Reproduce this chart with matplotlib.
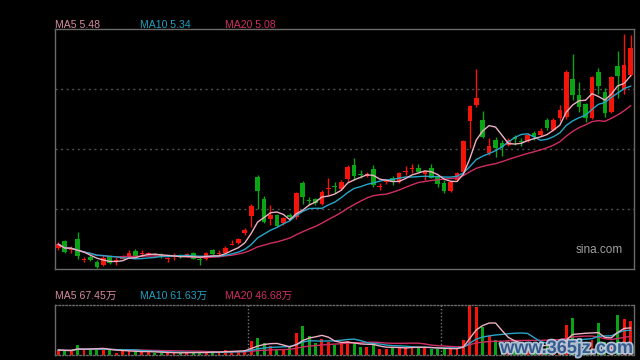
import matplotlib
matplotlib.use("Agg")
import matplotlib.pyplot as plt
import matplotlib.patheffects as pe
import numpy as np
import pandas as pd

# daily OHLC (price), 90 sessions
opens = [3.18, 3.27, 3.16, 3.30, 3.02, 3.06, 3.00, 2.95, 3.07, 3.01,
         3.04, 3.06, 3.14, 3.10, 3.10, 3.10, 3.10, 3.03, 3.06, 3.09,
         3.07, 3.11, 3.03, 3.03, 3.15, 3.10, 3.12, 3.22, 3.25, 3.38,
         3.61, 4.13, 3.84, 3.57, 3.62, 3.51, 3.62, 3.59, 4.05, 3.82,
         3.83, 3.77, 3.97, 4.01, 3.97, 4.10, 4.28, 4.16, 4.14, 4.23,
         4.00, 4.06, 4.11, 4.06, 4.20, 4.24, 4.25, 4.17, 4.25, 4.14,
         4.05, 3.94, 4.09, 4.20, 4.88, 5.09, 4.89, 4.44, 4.62, 4.58,
         4.55, 4.66, 4.61, 4.61, 4.72, 4.69, 4.89, 4.75, 4.92, 4.93,
         5.43, 5.22, 5.10, 4.92, 5.53, 5.26, 5.00, 5.61, 5.29, 5.49]
closes = [3.23, 3.13, 3.17, 3.07, 3.03, 3.02, 2.93, 3.05, 2.98, 3.02,
          3.07, 3.11, 3.07, 3.11, 3.11, 3.09, 3.06, 3.04, 3.07, 3.06,
          3.10, 3.04, 3.02, 3.11, 3.10, 3.11, 3.18, 3.23, 3.30, 3.42,
          3.74, 3.94, 3.53, 3.62, 3.47, 3.58, 3.59, 3.92, 3.86, 3.81,
          3.78, 3.93, 3.98, 4.00, 4.06, 4.26, 4.14, 4.15, 4.17, 4.02,
          4.01, 4.07, 4.06, 4.18, 4.21, 4.25, 4.20, 4.20, 4.12, 4.03,
          3.94, 4.06, 4.18, 4.61, 5.07, 5.18, 4.66, 4.54, 4.51, 4.53,
          4.62, 4.63, 4.59, 4.69, 4.66, 4.74, 4.78, 4.89, 5.02, 5.53,
          5.22, 5.06, 4.92, 5.46, 5.34, 4.98, 5.46, 5.47, 5.62, 5.85]
highs = [3.26, 3.29, 3.21, 3.39, 3.06, 3.09, 3.02, 3.09, 3.09, 3.06,
         3.09, 3.16, 3.17, 3.15, 3.13, 3.11, 3.11, 3.06, 3.11, 3.10,
         3.11, 3.13, 3.07, 3.13, 3.17, 3.15, 3.21, 3.29, 3.32, 3.45,
         3.77, 4.15, 3.87, 3.75, 3.63, 3.59, 3.65, 3.93, 4.07, 3.86,
         3.85, 3.95, 4.12, 4.06, 4.09, 4.29, 4.38, 4.22, 4.19, 4.29,
         4.05, 4.10, 4.14, 4.19, 4.27, 4.30, 4.30, 4.21, 4.30, 4.15,
         4.09, 4.07, 4.20, 4.62, 5.09, 5.57, 5.01, 4.65, 4.66, 4.62,
         4.65, 4.69, 4.65, 4.71, 4.74, 4.78, 4.91, 4.91, 5.09, 5.55,
         5.77, 5.40, 5.11, 5.47, 5.58, 5.32, 5.47, 5.81, 6.03, 6.02]
lows = [3.15, 3.11, 3.11, 3.03, 2.99, 3.01, 2.91, 2.94, 2.97, 2.95,
        3.03, 3.05, 3.06, 3.06, 3.09, 3.07, 3.05, 3.00, 3.02, 3.05,
        3.06, 3.03, 2.95, 3.02, 3.09, 3.07, 3.11, 3.22, 3.23, 3.35,
        3.46, 3.70, 3.51, 3.49, 3.46, 3.49, 3.57, 3.57, 3.77, 3.75,
        3.75, 3.75, 3.89, 3.92, 3.95, 4.06, 4.09, 4.12, 4.13, 3.99,
        3.95, 4.04, 4.02, 4.05, 4.15, 4.18, 4.19, 4.09, 4.11, 4.00,
        3.91, 3.93, 4.07, 4.19, 4.51, 5.06, 4.65, 4.42, 4.39, 4.41,
        4.54, 4.55, 4.54, 4.59, 4.62, 4.67, 4.75, 4.74, 4.88, 4.90,
        5.15, 5.00, 4.86, 4.90, 5.24, 4.93, 4.98, 5.18, 5.24, 5.47]
# volume in 万 (10k shares)
volumes = [12.4, 10.7, 10.7, 24.8, 14.1, 14.1, 14.9, 14.1, 12.4, 5.7,
           9.2, 9.9, 9.2, 8.2, 6.7, 5.0, 6.2, 5.0, 6.2, 5.0,
           6.2, 7.4, 6.2, 7.4, 8.7, 6.2, 12.4, 9.9, 11.2, 12.4,
           34.7, 42.9, 29.0, 22.3, 14.9, 14.9, 20.6, 55.3, 72.7, 47.1,
           30.5, 38.9, 33.0, 24.8, 29.0, 34.7, 29.0, 20.6, 20.6, 26.5,
           14.9, 14.9, 18.1, 19.1, 20.6, 20.6, 18.1, 18.1, 15.6, 15.6,
           15.6, 15.6, 15.6, 37.2, 124.0, 119.8, 70.2, 47.1, 37.2, 30.5,
           33.0, 27.3, 22.3, 24.8, 19.8, 22.3, 29.8, 24.8, 34.7, 74.4,
           92.5, 37.2, 32.2, 38.4, 78.6, 32.2, 32.2, 99.2, 89.3, 84.3]
month_breaks = [29.5, 59.5]

ma_last = {"MA5": "5.48", "MA10": "5.34", "MA20": "5.08"}
vol_ma_last = {"MA5": "67.45万", "MA10": "61.63万", "MA20": "46.68万"}

RED = "#f5140a"
GREEN = "#0aa514"
MA_COLORS = {"MA5": "#eeb0c2", "MA10": "#26a6c8", "MA20": "#d02d64"}
LABEL_COLORS = {"MA5": "#d88aa0", "MA10": "#1fa0c0", "MA20": "#d02d64"}
BORDER = "#6a6a6a"

plt.rcParams["font.family"] = ["Liberation Sans", "Noto Sans CJK SC", "DejaVu Sans"]

df = pd.DataFrame({"open": opens, "close": closes, "high": highs,
                   "low": lows, "vol": volumes})
x = np.arange(len(df))
up = df["close"] >= df["open"]
colors = np.where(up, RED, GREEN)

fig = plt.figure(figsize=(6.4, 3.6), dpi=100, facecolor="black")
ax = fig.add_axes([55 / 640, 1 - 269 / 360, 579 / 640, 240 / 360])
axv = fig.add_axes([55 / 640, 1 - 355 / 360, 579 / 640, 50 / 360])

for a in (ax, axv):
    a.set_facecolor("black")
    a.set_xticks([])
    a.set_yticks([])
    a.set_xlim(-0.51, 89.53)
    for s in a.spines.values():
        s.set_color(BORDER)
        s.set_linewidth(1.0)

# price panel
ax.set_ylim(2.9, 6.1)
for g in (3.7, 4.5, 5.3):
    ax.axhline(g, color="#505050", lw=1.0, ls=(0, (1.5, 2.5)), zorder=0)

ax.vlines(x, df["low"], df["high"], colors=colors, lw=1.0, zorder=2)
body_lo = np.minimum(df["open"], df["close"])
body_h = np.maximum(np.abs(df["close"] - df["open"]), 0.012)
ax.bar(x, body_h, bottom=body_lo, width=0.72, color=colors, lw=0, zorder=3)

for n, name in ((20, "MA20"), (10, "MA10"), (5, "MA5")):
    ma = df["close"].rolling(n, min_periods=1).mean()
    ax.plot(x, ma, color=MA_COLORS[name], lw=1.0, zorder=4)

# volume panel
axv.set_ylim(0, 124.5)
axv.spines["top"].set_linestyle((0, (1, 1.5)))
axv.spines["bottom"].set_linestyle((0, (1, 1.5)))
for b in month_breaks:
    axv.axvline(b, color="#777777", lw=1.0, ls=(0, (1, 1.5)), zorder=0)
axv.bar(x, df["vol"], width=0.45, color=colors, lw=0, zorder=2)
for n, name in ((20, "MA20"), (10, "MA10"), (5, "MA5")):
    vma = df["vol"].rolling(n, min_periods=1).mean()
    axv.plot(x, vma, color=MA_COLORS[name], lw=1.0, zorder=3)

# labels
for i, name in enumerate(("MA5", "MA10", "MA20")):
    fig.text((55 + 85 * i) / 640, 1 - 28 / 360, f"{name} {ma_last[name]}",
             color=LABEL_COLORS[name], fontsize=7.6, va="baseline")
    fig.text((55 + 85 * i) / 640, 1 - 299 / 360, f"{name} {vol_ma_last[name]}",
             color=LABEL_COLORS[name], fontsize=7.6, va="baseline")

fig.text(623 / 640, 1 - 253 / 360, "sina.com", color="#a0a0a0", fontsize=8.5,
         ha="right", va="baseline")

fig.text(633 / 640, 1 - 353 / 360, "www.365jz.com", color="#2a4f86",
         fontsize=13, fontweight="bold", ha="right", va="baseline", alpha=0.9,
         path_effects=[pe.withStroke(linewidth=2.5, foreground="#c0d4e6")])

fig.savefig("out.png", dpi=100, facecolor="black")
